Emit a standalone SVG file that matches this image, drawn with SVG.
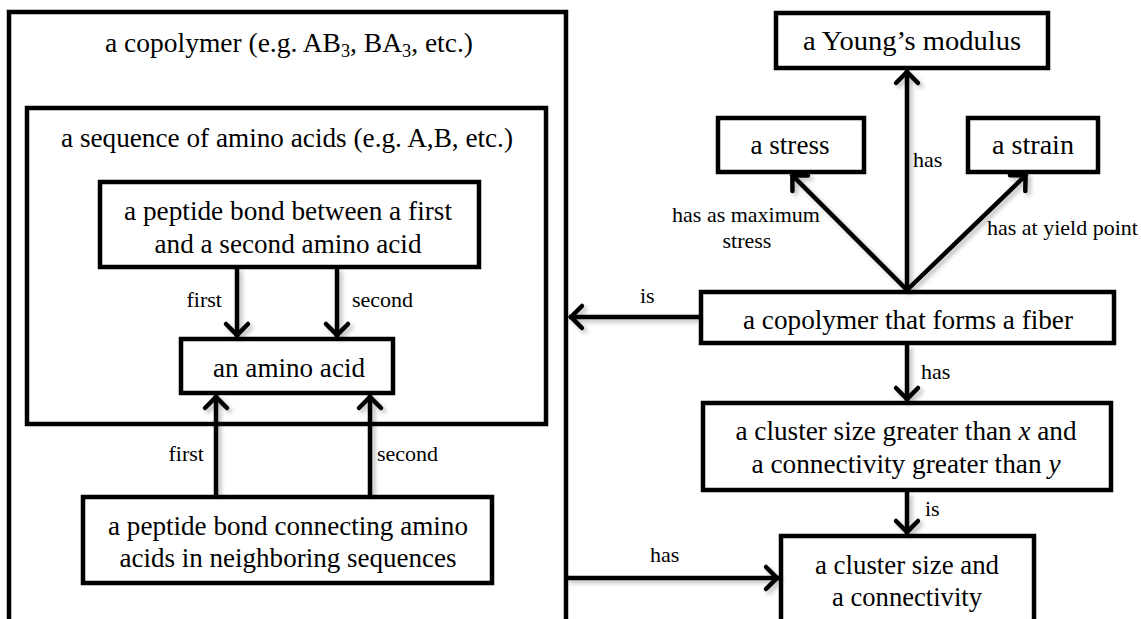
<svg xmlns="http://www.w3.org/2000/svg" width="1141" height="619" viewBox="0 0 1141 619">
<style>
.box{fill:#fff;stroke:#000;stroke-width:4.5}
.cont{fill:none;stroke:#000;stroke-width:4.5}
.t{font-family:'Liberation Serif','Times New Roman',serif;font-size:27px;fill:#000;text-anchor:middle}
.l{font-family:'Liberation Serif','Times New Roman',serif;font-size:22px;fill:#000}
.c{fill:none;stroke:#000;stroke-width:4.5;marker-end:url(#ah)}
</style>
<defs>
<marker id="ah" markerUnits="userSpaceOnUse" markerWidth="34" markerHeight="34" viewBox="-17 -17 34 34" refX="0" refY="0" orient="auto">
<path d="M-13,-11 L-2,0 L-13,11" fill="none" stroke="#000" stroke-width="4.5" stroke-linecap="round"/>
</marker>
<filter id="sh" x="-20%" y="-20%" width="140%" height="140%">
<feDropShadow dx="3" dy="3" stdDeviation="2" flood-color="#000" flood-opacity="0.25"/>
</filter>
</defs>
<rect width="1141" height="619" fill="#fff"/>
<g id="copolymer">
<rect class="cont" x="9" y="12" width="557" height="640"/>
<text class="t" x="289" y="52" textLength="368" lengthAdjust="spacingAndGlyphs">a copolymer (e.g. AB<tspan font-size="18" dy="5">3</tspan><tspan dy="-5">, BA</tspan><tspan font-size="18" dy="5">3</tspan><tspan dy="-5">, etc.)</tspan></text>
</g>
<g id="sequence">
<rect class="cont" x="27" y="108" width="519" height="316"/>
<text class="t" x="287" y="147" textLength="452" lengthAdjust="spacingAndGlyphs">a sequence of amino acids (e.g. A,B, etc.)</text>
</g>
<g id="peptide-bond">
<rect class="box" x="100" y="182" width="379" height="85"/>
<text class="t" x="288" y="220" textLength="328" lengthAdjust="spacingAndGlyphs">a peptide bond between a first</text>
<text class="t" x="288" y="253" textLength="267" lengthAdjust="spacingAndGlyphs">and a second amino acid</text>
</g>
<g id="amino-acid">
<rect class="box" x="181" y="339" width="212" height="54"/>
<text class="t" x="289" y="377" textLength="152" lengthAdjust="spacingAndGlyphs">an amino acid</text>
</g>
<g id="peptide-bond-neighbor">
<rect class="box" x="83" y="497" width="409" height="86"/>
<text class="t" x="288" y="535" textLength="360" lengthAdjust="spacingAndGlyphs">a peptide bond connecting amino</text>
<text class="t" x="288" y="567" textLength="337" lengthAdjust="spacingAndGlyphs">acids in neighboring sequences</text>
</g>
<g id="youngs-modulus">
<rect class="box" x="776" y="13" width="272" height="55"/>
<text class="t" x="912" y="50" textLength="218" lengthAdjust="spacingAndGlyphs">a Young’s modulus</text>
</g>
<g id="stress">
<rect class="box" x="718" y="118" width="146" height="54"/>
<text class="t" x="790" y="154" textLength="79" lengthAdjust="spacingAndGlyphs">a stress</text>
</g>
<g id="strain">
<rect class="box" x="968" y="118" width="130" height="54"/>
<text class="t" x="1033" y="154" textLength="82" lengthAdjust="spacingAndGlyphs">a strain</text>
</g>
<g id="fiber">
<rect class="box" x="701" y="292" width="413" height="51"/>
<text class="t" x="908" y="329" textLength="330" lengthAdjust="spacingAndGlyphs">a copolymer that forms a fiber</text>
</g>
<g id="cluster-greater">
<rect class="box" x="703" y="403" width="408" height="87"/>
<text class="t" x="906" y="440" textLength="341" lengthAdjust="spacingAndGlyphs">a cluster size greater than <tspan font-style="italic">x</tspan> and</text>
<text class="t" x="906" y="473" textLength="309" lengthAdjust="spacingAndGlyphs">a connectivity greater than <tspan font-style="italic">y</tspan></text>
</g>
<g id="cluster">
<rect class="box" x="781" y="536" width="253" height="120"/>
<text class="t" x="907" y="574" textLength="184" lengthAdjust="spacingAndGlyphs">a cluster size and</text>
<text class="t" x="907" y="606" textLength="150" lengthAdjust="spacingAndGlyphs">a connectivity</text>
</g>
<g id="connectors">
<g filter="url(#sh)">
<line class="c" x1="237" y1="268" x2="237" y2="337"/>
<line class="c" x1="337" y1="268" x2="337" y2="337"/>
<line class="c" x1="216" y1="495" x2="216" y2="395"/>
<line class="c" x1="370" y1="495" x2="370" y2="395"/>
<line class="c" x1="907" y1="290" x2="907" y2="70"/>
<line class="c" x1="907" y1="290" x2="791" y2="174"/>
<line class="c" x1="907" y1="290" x2="1027" y2="174"/>
<line class="c" x1="699" y1="317" x2="569" y2="317"/>
<line class="c" x1="907" y1="345" x2="907" y2="401"/>
<line class="c" x1="907" y1="492" x2="907" y2="534"/>
<line class="c" x1="566" y1="578" x2="779" y2="578"/>
</g>
<text class="l" x="222" y="307" text-anchor="end">first</text>
<text class="l" x="352" y="307">second</text>
<text class="l" x="204" y="461" text-anchor="end">first</text>
<text class="l" x="377" y="461">second</text>
<text class="l" x="913" y="167">has</text>
<text class="l" x="746" y="222" text-anchor="middle">has as maximum</text>
<text class="l" x="747" y="248" text-anchor="middle">stress</text>
<text class="l" x="987" y="235">has at yield point</text>
<text class="l" x="640" y="303">is</text>
<text class="l" x="921" y="379">has</text>
<text class="l" x="925" y="516">is</text>
<text class="l" x="650" y="562">has</text>
</g>
</svg>
